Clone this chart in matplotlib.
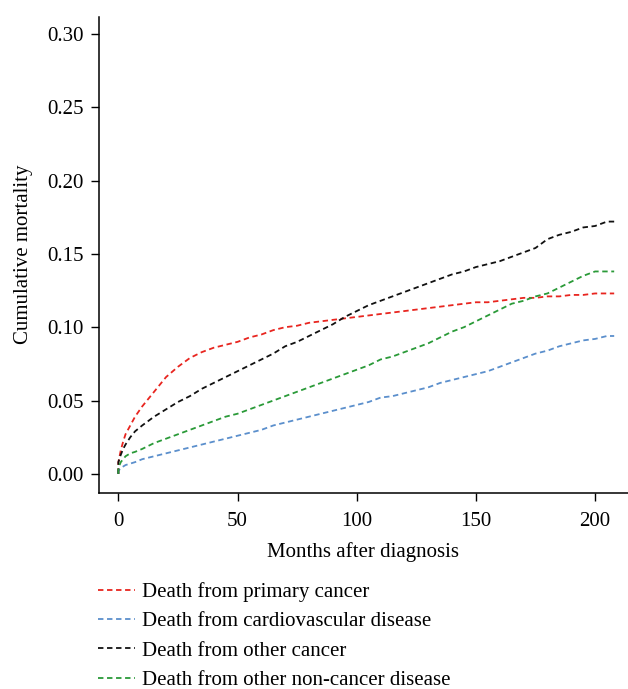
import matplotlib
matplotlib.use("Agg")
import matplotlib.pyplot as plt

plt.rcParams["font.family"] = ["Liberation Serif", "DejaVu Serif"]

# cumulative incidence by cause, read at these months
months = [0, 0, 1, 2, 3, 5, 7, 10, 15, 20, 25, 30, 35, 40, 45, 50, 55, 60, 65, 70, 75,
          80, 85, 90, 95, 100, 105, 110, 115, 120, 125, 130, 135, 140, 145, 150,
          155, 160, 165, 170, 175, 180, 185, 190, 195, 200, 205, 208]

primary_cancer = [0, 0.008, 0.016, 0.022, 0.027, 0.033, 0.039, 0.046, 0.056, 0.066, 0.073,
                  0.079, 0.083, 0.086, 0.088, 0.090, 0.093, 0.095, 0.098, 0.100, 0.101,
                  0.103, 0.104, 0.105, 0.106, 0.107, 0.108, 0.109, 0.110, 0.111, 0.112,
                  0.113, 0.114, 0.115, 0.116, 0.117, 0.117, 0.118, 0.119, 0.120, 0.120,
                  0.121, 0.121, 0.122, 0.122, 0.123, 0.123, 0.123]
cardiovascular = [0, 0.002, 0.004, 0.005, 0.006, 0.007, 0.008, 0.010, 0.012, 0.014, 0.016,
                  0.018, 0.020, 0.022, 0.024, 0.026, 0.028, 0.030, 0.033, 0.035, 0.037,
                  0.039, 0.041, 0.043, 0.045, 0.047, 0.049, 0.052, 0.053, 0.055, 0.057,
                  0.059, 0.062, 0.064, 0.066, 0.068, 0.070, 0.073, 0.076, 0.079, 0.082,
                  0.084, 0.087, 0.089, 0.091, 0.092, 0.094, 0.094]
other_cancer = [0, 0.008, 0.013, 0.017, 0.020, 0.025, 0.029, 0.033, 0.039, 0.044, 0.049,
                0.053, 0.058, 0.062, 0.066, 0.070, 0.074, 0.078, 0.082, 0.087, 0.090,
                0.094, 0.098, 0.102, 0.107, 0.111, 0.115, 0.118, 0.121, 0.124, 0.127,
                0.130, 0.133, 0.136, 0.138, 0.141, 0.143, 0.145, 0.148, 0.151, 0.154,
                0.160, 0.163, 0.165, 0.168, 0.169, 0.172, 0.172]
non_cancer = [0, 0.004, 0.008, 0.010, 0.012, 0.014, 0.015, 0.017, 0.021, 0.024, 0.027,
              0.030, 0.033, 0.036, 0.039, 0.041, 0.044, 0.047, 0.050, 0.053, 0.056,
              0.059, 0.062, 0.065, 0.068, 0.071, 0.074, 0.078, 0.080, 0.083, 0.086,
              0.089, 0.093, 0.097, 0.100, 0.104, 0.108, 0.112, 0.116, 0.118, 0.121,
              0.123, 0.127, 0.131, 0.135, 0.138, 0.138, 0.138]

labels = ["Death from primary cancer", "Death from cardiovascular disease",
          "Death from other cancer", "Death from other non-cancer disease"]
colors = ["#e8251f", "#5b8fcc", "#111111", "#2a9a38"]
series = [primary_cancer, cardiovascular, other_cancer, non_cancer]

FS = 15

fig = plt.figure(figsize=(6.28, 6.89), dpi=100)
ax = fig.add_axes([0.157, 0.285, 0.843, 0.691])

handles = []
for vals, col, lab in zip(series, colors, labels):
    ln, = ax.plot(months, vals, color=col, lw=1.3, dashes=(3, 2), label=lab)
    handles.append(ln)

ax.set_xlim(-8.3, 213.8)
ax.set_ylim(-0.0128, 0.3118)
ax.set_xticks([0, 50, 100, 150, 200])
ax.set_yticks([0.0, 0.05, 0.10, 0.15, 0.20, 0.25, 0.30])
ax.set_yticklabels(["0.00", "0.05", "0.10", "0.15", "0.20", "0.25", "0.30"])
for s in ["top", "right"]:
    ax.spines[s].set_visible(False)
for s in ["left", "bottom"]:
    ax.spines[s].set_linewidth(1.1)
ax.tick_params(direction="out", length=6, width=1.0, labelsize=FS, pad=8)
ax.tick_params(axis="y", pad=5)
ax.set_xlabel("Months after diagnosis", fontsize=FS, labelpad=8)
ax.set_ylabel("Cumulative mortality", fontsize=FS, labelpad=10)

fig.legend(handles=handles, labels=labels, loc="upper left",
           bbox_to_anchor=(0.143, 0.1675), frameon=False, fontsize=FS,
           handlelength=1.75, handletextpad=0.35, labelspacing=0.47,
           borderaxespad=0)

fig.savefig("out.png", dpi=100)
